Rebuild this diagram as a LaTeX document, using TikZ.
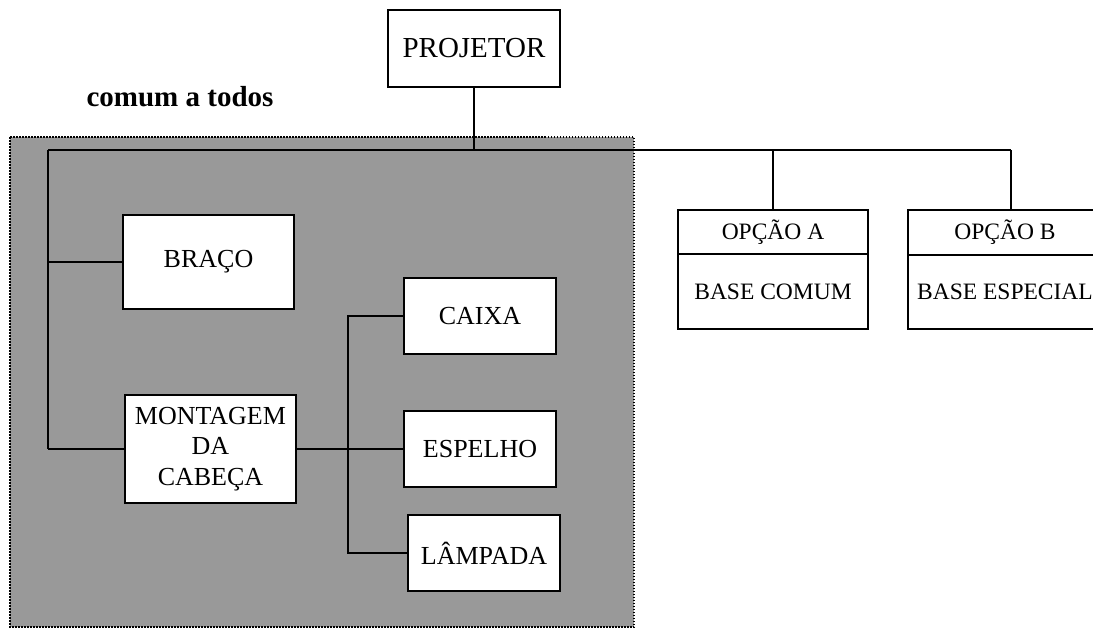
\documentclass[tikz,border=0pt]{standalone}
\usepackage{fontspec}
\setmainfont{Liberation Serif}
\usepackage{tikz}
\usetikzlibrary{calc,positioning}
\definecolor{panelgray}{RGB}{153,153,153}

\begin{document}
\begin{tikzpicture}[x=1pt,y=-1pt]
          \tikzstyle{bnode} = [draw, fill=white, line width=1.6pt, inner sep=0pt, align=center, minimum width=152pt, minimum height=76pt, font=\fontsize{26}{30.5}\selectfont]
          \tikzstyle{onode} = [draw, fill=white, line width=1.6pt, inner sep=0pt, align=center, minimum width=190pt, font=\fontsize{23.5}{27}\selectfont]
          \tikzstyle{link} = [line width=1.7pt]
          \useasboundingbox (0,0) rectangle (1093,630);

          % area comum
          \draw[fill=panelgray, line width=1.5pt, dash pattern=on 1.5pt off 1.5pt] (10,137) rectangle (634,627);
          \node[font=\fontsize{29}{33}\selectfont\bfseries, anchor=base] (comum) at (180,106) {comum a todos};

          \node[bnode, minimum width=172pt, minimum height=77pt, font=\fontsize{29}{33}\selectfont] (proj) at (474,48.5) {PROJETOR};

          \node[bnode, minimum width=171pt, minimum height=94pt] (braco) at (208.5,262) {BRAÇO};
          \node[bnode, minimum width=171pt, minimum height=108pt] (mont) at (210.5,449) {MONTAGEM\\DA\\CABEÇA};

          \node[bnode] (caixa) at (480,316) {CAIXA};
          \node[bnode] (espelho) at (480,449) {ESPELHO};
          \node[bnode] (lamp) at (484,553) {LÂMPADA};

          \node[onode, minimum height=44pt] (optA) at (773,232) {OPÇÃO A};
          \node[onode, minimum height=75pt] (baseA) at (773,291.5) {BASE COMUM};
          % caixa B passa da borda
          \node[onode, minimum width=194pt, minimum height=45pt] (optB) at (1005,232.5) {OPÇÃO B};
          \node[onode, minimum width=194pt, minimum height=74pt] (baseB) at (1005,292) {BASE ESPECIAL};

          \coordinate (busL) at (48,150);
          \coordinate (busR) at (1011,150);
          \coordinate (sub) at (348,317);

          \draw[link] (proj.south) to (proj.south |- busL);
          \draw[link] (busL) to (busR);
          \draw[link] (busL) to (busL |- mont.west);
          \draw[link] (busL |- braco.west) to (braco.west);
          \draw[link] (busL |- mont.west) to (mont.west);

          \draw[link] (optA.north |- busL) to (optA.north);
          \draw[link] (busR) to (busR |- optB.north);

          \draw[link] (mont.east) to (espelho.west);
          \draw[link] (caixa.west) to (caixa.west -| sub) to (lamp.west -| sub) to (lamp.west);
        \end{tikzpicture}
\end{document}
